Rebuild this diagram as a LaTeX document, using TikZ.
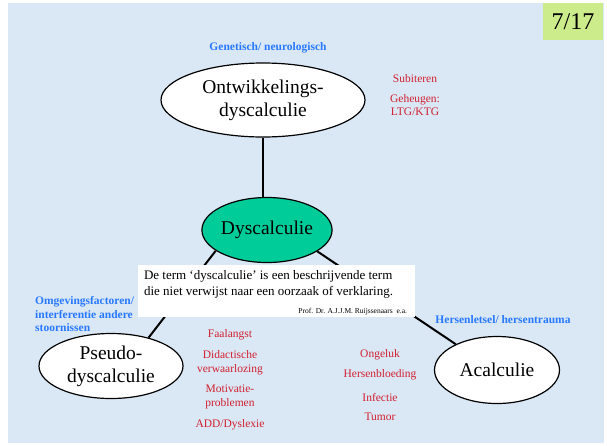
\documentclass[tikz,border=0pt]{standalone}
\usepackage{fontspec}
\setmainfont{Liberation Serif}
\usetikzlibrary{shapes.geometric}
\definecolor{bgblue}{RGB}{218,232,246}
\definecolor{dysgreen}{RGB}{0,204,153}
\definecolor{pagegreen}{RGB}{204,236,140}
\definecolor{noteblue}{RGB}{40,120,255}
\definecolor{notered}{RGB}{210,30,45}
\begin{document}
\begin{tikzpicture}[x=1pt,y=-1pt,
  bubble/.style={draw,black,line width=1.2pt,ellipse,inner sep=0pt,align=center,font=\fontsize{19.5}{23}\selectfont},
  cause/.style={noteblue,inner sep=0pt,align=left,font=\bfseries\fontsize{11.5}{13.5}\selectfont},
  sign/.style={notered,inner sep=0pt,align=center,font=\fontsize{11.5}{14}\selectfont},
  link/.style={line width=2pt,black}]
\def\lw{2pt}
\useasboundingbox (0,0) rectangle (607,445);
\fill[bgblue] (8,3) rectangle (604,443);
%\draw[red] (0,0) grid[step=50] (607,445);

\node [fill=pagegreen, inner sep=0pt, minimum width=60pt, minimum height=37pt, font=\fontsize{24}{24}\selectfont, name=page]      at (573,21.5) {7/17};

\node [bubble, fill=white, minimum width=204pt, minimum height=74pt, name=ont]      at (263,100) {Ontwikkelings-\\dyscalculie};
\node [bubble, fill=dysgreen, minimum width=130pt, minimum height=65pt, name=dys]      at (267,230) {Dyscalculie};
\node [bubble, fill=white, minimum width=144pt, minimum height=65pt, name=pseudo]      at (111,366) {Pseudo-\\dyscalculie};
\node [bubble, fill=white, minimum width=125pt, minimum height=67pt, name=acalc]      at (497,370) {Acalculie};

\draw [link](ont.south) to (ont.south |- dys.north);
\draw [link](dys.202) to (pseudo.37);
\draw [link](dys.337) to (acalc.148);

\node [fill=white, inner sep=0pt, minimum width=277pt, minimum height=52pt, name=quote]      at (276.5,291) {};
\node [anchor=north west, inner sep=0pt, align=left, font=\fontsize{13}{16}\selectfont, name=def]      at ([xshift=6pt,yshift=-5pt]quote.north west) {De term `dyscalculie' is een beschrijvende term\\die niet verwijst naar een oorzaak of verklaring.};
\node [anchor=south east, inner sep=0pt, font=\fontsize{7.5}{9}\selectfont, name=prof]      at ([xshift=-8pt,yshift=2pt]quote.south east) {Prof. Dr. A.J.J.M. Ruijssenaars~~e.a.};

\node [cause, name=gen]      at (268,48) {Genetisch/ neurologisch};
\node [cause, anchor=west, name=omg]      at (35,314) {Omgevingsfactoren/\\interferentie andere\\stoornissen};
\node [cause, name=hers]      at (503,320) {Hersenletsel/ hersentrauma};

\node [sign, name=sub]      at (415,79) {Subiteren};
\node [sign, font=\fontsize{11.5}{13}\selectfont, name=geh]      at (415,105.5) {Geheugen:\\LTG/KTG};

\node [sign, name=faal]      at (230,335) {Faalangst};
\node [sign, name=didac]      at (230,363) {Didactische\\verwaarlozing};
\node [sign, name=motiv]      at (230,397) {Motivatie-\\problemen};
\node [sign, name=add]      at (230,425) {ADD/Dyslexie};

\node [sign, name=ong]      at (380,355) {Ongeluk};
\node [sign, name=bloed]      at (380,375) {Hersenbloeding};
\node [sign, name=inf]      at (380,397) {Infectie};
\node [sign, name=tum]      at (380,417) {Tumor};
\end{tikzpicture}
\end{document}
